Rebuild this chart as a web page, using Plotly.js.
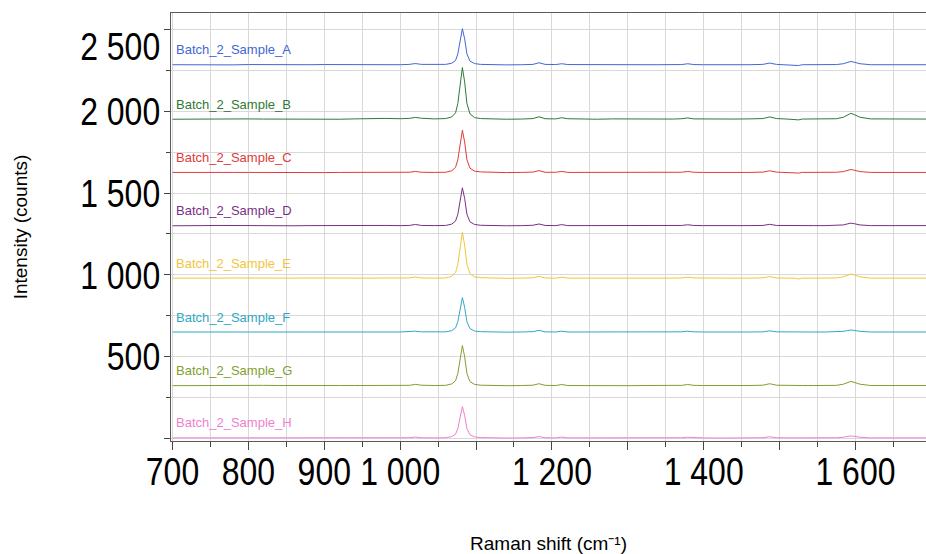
<!DOCTYPE html>
<html>
<head>
<meta charset="utf-8">
<script src="https://cdn.plot.ly/plotly-3.0.1.min.js"></script>
<style>html,body{margin:0;padding:0;background:#fff;}#chart{width:926px;height:554px;}</style>
</head>
<body>
<div id="chart"></div>
<script>
// Raman shift (cm-1)
const ramanShift = [700,720,740,760,780,800,820,840,860,880,900,920,940,960,980,1000,1012,1020,1028,1045,1060,1068,1073,1076,1079,1082,1085,1088,1092,1098,1106,1120,1140,1160,1175,1183,1191,1205,1213,1221,1240,1260,1280,1300,1320,1340,1360,1371,1379,1387,1400,1420,1440,1460,1478,1487,1496,1510,1520,1525,1530,1545,1560,1575,1584,1590,1594,1598,1606,1620,1640,1660,1680,1693];

const seriesNames = ["Batch_2_Sample_A","Batch_2_Sample_B","Batch_2_Sample_C","Batch_2_Sample_D","Batch_2_Sample_E","Batch_2_Sample_F","Batch_2_Sample_G","Batch_2_Sample_H"];

const sampleA = [2284,2283,2285,2284,2283,2285,2284,2284,2283,2284,2285,2284,2283,2284,2285,2284,2286,2291,2286,2284,2286,2293,2310,2350,2438,2504,2442,2350,2306,2291,2286,2284,2283,2284,2286,2296,2286,2285,2290,2285,2284,2284,2283,2282,2284,2284,2283,2285,2290,2285,2284,2283,2284,2284,2286,2294,2286,2284,2284,2279,2284,2284,2284,2285,2290,2299,2304,2300,2290,2284,2284,2281,2284,2284];
const sampleB = [1951,1952,1954,1955,1956,1953,1952,1951,1952,1953,1952,1951,1953,1955,1956,1954,1956,1962,1957,1953,1955,1965,1990,2047,2172,2267,2179,2047,1984,1961,1955,1952,1951,1952,1955,1966,1954,1953,1960,1954,1952,1951,1953,1952,1951,1952,1952,1954,1959,1953,1952,1951,1952,1953,1955,1965,1955,1952,1951,1947,1952,1953,1954,1954,1963,1978,1987,1980,1963,1953,1952,1950,1952,1952];
const sampleC = [1626,1625,1626,1627,1626,1626,1625,1626,1627,1626,1625,1626,1626,1625,1626,1626,1627,1632,1627,1626,1627,1636,1657,1703,1807,1884,1812,1703,1652,1634,1629,1626,1625,1626,1628,1637,1627,1627,1632,1626,1626,1626,1625,1626,1625,1626,1626,1627,1632,1627,1626,1625,1626,1626,1628,1636,1628,1626,1626,1622,1626,1626,1626,1627,1631,1639,1644,1640,1631,1626,1626,1623,1626,1626];
const sampleD = [1300,1299,1301,1302,1301,1300,1301,1301,1300,1301,1302,1301,1300,1301,1302,1301,1302,1308,1302,1301,1302,1310,1329,1370,1463,1532,1467,1370,1324,1308,1303,1301,1300,1301,1303,1311,1302,1301,1307,1301,1301,1300,1301,1301,1300,1301,1301,1302,1306,1302,1301,1300,1301,1301,1302,1309,1302,1301,1301,1298,1301,1301,1301,1302,1305,1312,1316,1313,1305,1301,1301,1299,1301,1301];
const sampleE = [980,979,978,980,981,980,980,979,980,981,980,980,979,980,981,980,981,987,981,980,981,991,1014,1064,1176,1260,1182,1064,1008,988,983,980,979,980,982,991,981,980,986,980,980,980,979,976,980,980,980,981,986,981,980,979,980,980,982,990,981,980,980,975,980,980,980,981,988,999,1005,1000,988,980,980,976,980,980];
const sampleF = [651,650,651,652,651,651,650,651,652,651,651,650,651,652,651,651,652,656,652,651,652,659,676,714,798,861,802,714,672,657,653,651,650,651,653,661,652,651,656,651,651,651,650,651,651,650,651,652,656,652,651,650,651,651,652,658,652,651,651,648,651,651,651,652,655,660,663,661,655,651,651,649,651,651];
const sampleG = [323,324,325,324,323,324,325,324,323,324,325,324,324,323,324,324,325,331,326,324,325,334,353,397,495,568,500,397,348,331,326,324,323,324,326,335,325,324,330,324,323,324,324,323,324,324,324,325,330,325,324,323,324,324,326,335,326,324,324,321,324,324,324,325,332,343,349,344,332,324,324,322,324,324];
const sampleH = [4,4,5,4,3,4,5,4,4,3,4,5,4,4,4,4,5,9,5,4,5,12,27,61,138,195,142,61,23,10,6,4,3,4,6,12,5,4,9,4,4,4,3,4,4,4,4,5,8,5,4,3,4,4,5,11,5,4,4,1,4,4,4,5,8,13,16,14,8,4,4,2,4,4];

const seriesValues = [sampleA,sampleB,sampleC,sampleD,sampleE,sampleF,sampleG,sampleH];
const seriesColors = ["#4266d4","#2f7a34","#e03a3a","#7a2f86","#f2c53d","#2fa8c6","#7f9f2f","#ef7fcf"];

const xTickVals = [700,800,900,1000,1100,1200,1300,1400,1500,1600];
const xTickText = ["700","800","900","1 000","","1 200","","1 400","","1 600"];
const yTickVals = [0,500,1000,1500,2000,2500];
const yTickText = ["","500","1 000","1 500","2 000","2 500"];

const SANS = "'Liberation Sans',Arial,sans-serif";

const traces = seriesNames.map((name, i) => ({
  type: 'scatter', mode: 'lines', name: name,
  x: ramanShift, y: seriesValues[i],
  line: {color: seriesColors[i], width: 1},
  hoverinfo: 'skip'
}));

const annotations = seriesNames.map((name, i) => ({
  xref: 'paper', yref: 'y', x: 0, y: seriesValues[i][0],
  xanchor: 'left', yanchor: 'middle', xshift: 3, yshift: 15,
  text: name, showarrow: false,
  font: {family: SANS, size: 13, color: seriesColors[i]}
}));

const layout = {
  width: 926, height: 554,
  margin: {l: 171, r: 0, t: 13, b: 113, pad: 0},
  paper_bgcolor: '#fff', plot_bgcolor: '#fff',
  showlegend: false,
  xaxis: {
    range: [698, 1693],
    tickmode: 'array', tickvals: xTickVals, ticktext: xTickText, tickangle: 0,
    ticks: 'outside', ticklen: 8, tickwidth: 1, tickcolor: '#444',
    showgrid: true, gridcolor: '#d9d9d9', gridwidth: 1,
    minor: {tickmode: 'linear', tick0: 650, dtick: 50, ticks: 'outside', ticklen: 5, tickcolor: '#444', showgrid: true, gridcolor: '#d9d9d9', gridwidth: 1},
    showline: true, linecolor: '#5a5a5a', linewidth: 1, mirror: true,
    zeroline: false,
    tickfont: {family: SANS, size: 39, color: '#000'},
    title: {text: 'Raman shift (cm⁻¹)', font: {family: SANS, size: 19, color: '#000'}, standoff: 42}
  },
  yaxis: {
    range: [-15, 2600],
    tickmode: 'array', tickvals: yTickVals, ticktext: yTickText,
    ticks: 'outside', ticklen: 6, tickwidth: 1, tickcolor: '#444',
    showgrid: true, gridcolor: '#d9d9d9', gridwidth: 1,
    minor: {tickmode: 'linear', tick0: 0, dtick: 250, ticks: 'outside', ticklen: 4, tickcolor: '#444', showgrid: true, gridcolor: '#d9d9d9', gridwidth: 1},
    showline: true, linecolor: '#5a5a5a', linewidth: 1, mirror: false,
    zeroline: false,
    tickfont: {family: SANS, size: 39, color: '#000'},
    title: {text: 'Intensity (counts)', font: {family: SANS, size: 19, color: '#000'}, standoff: 25}
  },
  annotations: annotations
};

Plotly.newPlot('chart', traces, layout, {displayModeBar: false, staticPlot: true}).then(gd => {
  // narrow the big tick labels horizontally about their anchor points (Arial Narrow look)
  const narrow = (sel, dx, dy) => gd.querySelectorAll(sel).forEach(t => {
    const x = parseFloat(t.getAttribute('x')) || 0;
    const y = parseFloat(t.getAttribute('y')) || 0;
    let tr = (t.getAttribute('transform') || '') + ' translate(' + dx + ',' + dy + ')';
    if (t.textContent === '2 500') tr += ' translate(0,17)';
    t.setAttribute('transform', tr + ' translate(' + x + ',' + y + ') scale(0.82,1) translate(' + (-x) + ',' + (-y) + ')');
  });
  narrow('.xtick text', 0, -12);
  narrow('.ytick text', 4, 0);
});
</script>
</body>
</html>
